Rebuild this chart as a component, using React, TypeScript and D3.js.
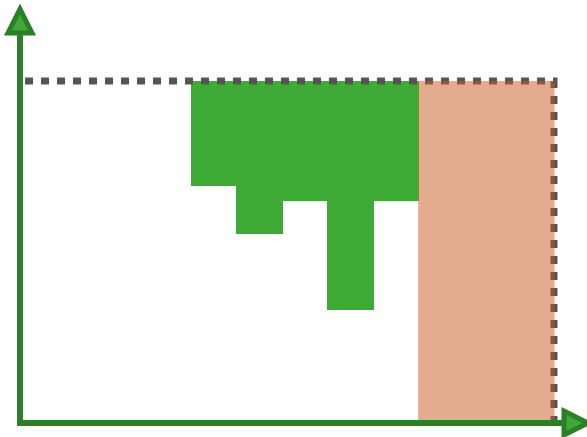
import React from "react";
import * as d3 from "d3";

const categories = ["a", "b", "c", "d", "e"];
const depths = [31, 45, 35.5, 67.5, 35.5];
const shadedSpan = [5, 8];

const W = 587;
const H = 437;

export default function App() {
  const x = d3.scaleLinear().domain([0, 5]).range([191, 418.2]);
  const y = d3.scaleLinear().domain([0, 100]).range([81, 420]);
  const originX = 20;
  const originY = 423;
  const green = "#3caa35";
  const dark = "#2a7f27";

  const border = d3.line()([
    [25, y(0)],
    [554, y(0)],
    [554, y(100)],
  ]);

  return (
    <svg
      width={W}
      height={H}
      style={{ position: "absolute", left: 0, top: 0, display: "block" }}
    >
      <rect width={W} height={H} fill="#fff" />
      {categories.map((c, i) => (
        <rect
          key={c}
          x={Math.round(x(i))}
          y={y(0)}
          width={Math.round(x(i + 1)) - Math.round(x(i)) + 1}
          height={Math.round(y(depths[i]) - y(0))}
          fill={green}
          shapeRendering="crispEdges"
        />
      ))}
      <path
        d={border || ""}
        fill="none"
        stroke="#555555"
        strokeWidth={7}
        strokeDasharray="8 8"
      />
      <rect
        x={x(shadedSpan[0])}
        y={y(0)}
        width={x(shadedSpan[1]) - x(shadedSpan[0])}
        height={y(100) - y(0)}
        fill="#c85a1e"
        opacity={0.5}
      />
      <line x1={originX} y1={originY + 3} x2={originX} y2={30} stroke={dark} strokeWidth={6} />
      <line x1={originX - 3} y1={originY} x2={565} y2={originY} stroke={dark} strokeWidth={6} />
      <path
        d={`M${originX},9 L${originX + 12},33 L${originX - 12},33 Z`}
        fill={green}
        stroke={dark}
        strokeWidth={5}
        strokeLinejoin="miter"
      />
      <path
        d={`M588,${originY} L564,${originY + 12} L564,${originY - 12} Z`}
        fill={green}
        stroke={dark}
        strokeWidth={5}
        strokeLinejoin="miter"
      />
    </svg>
  );
}
